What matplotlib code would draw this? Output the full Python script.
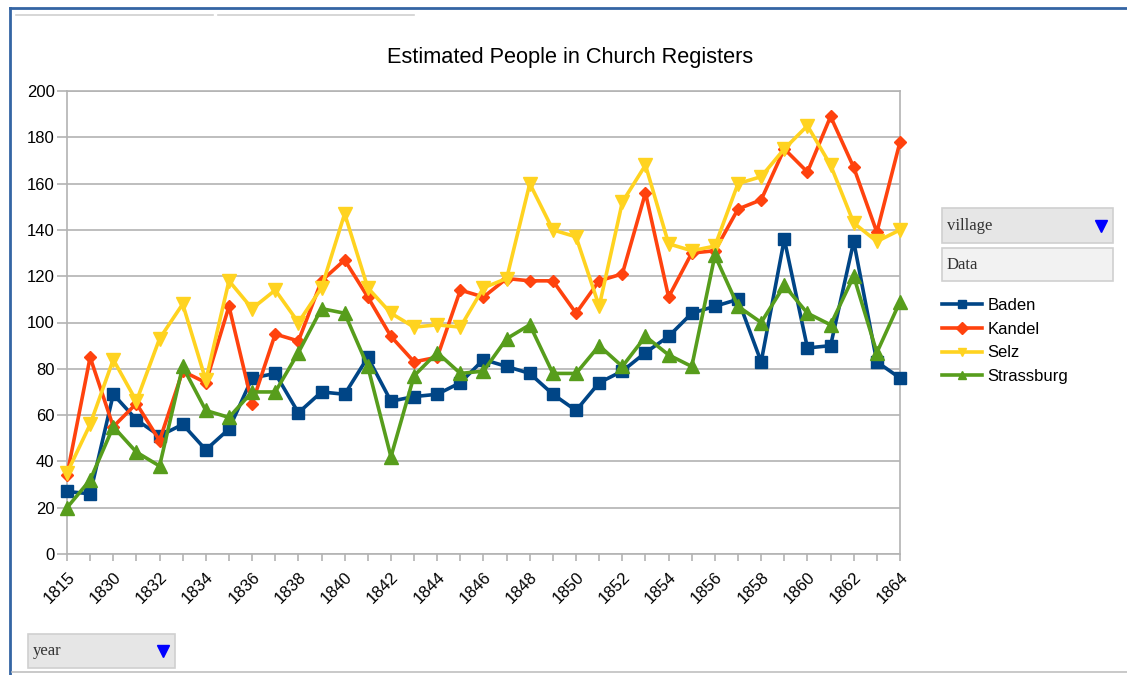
import numpy as np
import matplotlib
matplotlib.use("Agg")
import matplotlib.pyplot as plt
from matplotlib.lines import Line2D
from matplotlib.patches import Rectangle

plt.rcParams['font.family'] = ['Liberation Sans', 'DejaVu Sans']

years = ["1815", "1829"] + [str(y) for y in range(1830, 1865)]

baden = [27, 26, 69, 58, 51, 56, 45, 54, 76, 78, 61, 70, 69, 85, 66, 68, 69, 74, 84,
         81, 78, 69, 62, 74, 79, 87, 94, 104, 107, 110, 83, 136, 89, 90, 135, 83, 76]
kandel = [34, 85, 55, 65, 49, 79, 74, 107, 65, 95, 92, 118, 127, 111, 94, 83, 85, 114, 111,
          119, 118, 118, 104, 118, 121, 156, 111, 130, 131, 149, 153, 175, 165, 189, 167, 139, 178]
selz = [35, 56, 84, 66, 93, 108, 75, 118, 106, 114, 100, 115, 147, 115, 104, 98, 99, 98, 115,
        119, 160, 140, 137, 107, 152, 168, 134, 131, 133, 160, 163, 175, 185, 168, 143, 135, 140]
strassburg = [20, 32, 55, 44, 38, 81, 62, 59, 70, 70, 87, 106, 104, 81, 42, 77, 87, 78, 79,
              93, 99, 78, 78, 90, 81, 94, 86, 81, 129, 107, 100, 116, 104, 99, 120, 87, 109]

series = [
    ("Baden", baden, "#004586", "s", 9),
    ("Kandel", kandel, "#ff420e", "D", 6.5),
    ("Selz", selz, "#ffd320", "v", 10),
    ("Strassburg", strassburg, "#579d1c", "^", 10),
]

W, H = 1127, 675
fig = plt.figure(figsize=(W / 100, H / 100), dpi=100)
ax = fig.add_axes([67 / W, 1 - 554 / H, (900 - 67) / W, (554 - 91) / H])

x = np.arange(len(years))
for name, vals, col, mk, ms in series:
    ax.plot(x, vals, color=col, lw=2.6, marker=mk, ms=ms, mec=col, mfc=col, label=name,
            clip_on=False, zorder=3)

ax.set_xlim(0, len(years) - 1)
ax.set_ylim(0, 200)
ax.set_yticks(range(0, 201, 20))
ax.set_xticks(x)
ax.set_xticklabels([y if i % 2 == 0 else "" for i, y in enumerate(years)],
                   rotation=45, ha="right", va="top", rotation_mode="anchor", fontsize=12)
ax.tick_params(axis="y", labelsize=12, length=7, color="#b3b3b3", width=1.2, pad=2)
ax.tick_params(axis="x", length=5, color="#b3b3b3", width=1.2, pad=6)
ax.yaxis.grid(True, color="#b3b3b3", lw=1.2)
ax.set_axisbelow(True)
for s in ax.spines.values():
    s.set_color("#b3b3b3")
    s.set_linewidth(1.2)

fig.text(570 / W, 1 - 58 / H, "Estimated People in Church Registers", ha="center", va="center",
         fontsize=15.7)

leg = ax.legend(loc="upper left", bbox_to_anchor=(935 / W, 1 - 291 / H), bbox_transform=fig.transFigure,
                frameon=False, fontsize=12, handlelength=2.4, handletextpad=0.35, labelspacing=0.53,
                borderaxespad=0)
for h in leg.legend_handles:
    h.set_markersize(6)

# field buttons of the pivot chart
def button(x0, y0, x1, y1, label, fill, arrow):
    fig.add_artist(Rectangle((x0 / W, 1 - y1 / H), (x1 - x0) / W, (y1 - y0) / H,
                             transform=fig.transFigure, fc=fill, ec="#d0d0d0", lw=1.2))
    fig.text((x0 + 5) / W, 1 - (y0 + y1) / 2 / H, label, ha="left", va="center",
             fontsize=12, family=["Liberation Serif", "DejaVu Serif"], color="#333333")
    if arrow:
        fig.add_artist(Line2D([(x1 - 12) / W], [1 - (y0 + y1) / 2 / H], marker="v", ms=8,
                              color="#0000ff", transform=fig.transFigure))

button(942, 208, 1113, 243, "village", "#e6e6e6", True)
button(942, 248, 1113, 281, "Data", "#f2f2f2", False)
button(28, 634, 175, 668, "year", "#e6e6e6", True)

# sheet frame
fig.add_artist(Line2D([10 / W, 10 / W], [0, 1 - 8 / H], color="#3465a4", lw=2, transform=fig.transFigure))
fig.add_artist(Line2D([10 / W, 1], [1 - 8 / H, 1 - 8 / H], color="#3465a4", lw=2, transform=fig.transFigure))
fig.add_artist(Line2D([12 / W, 1], [1 - 672 / H, 1 - 672 / H], color="#c0c0c0", lw=1.2, transform=fig.transFigure))
fig.add_artist(Line2D([16 / W, 213 / W], [1 - 15 / H, 1 - 15 / H], color="#d0d0d0", lw=1.2, transform=fig.transFigure))
fig.add_artist(Line2D([218 / W, 414 / W], [1 - 15 / H, 1 - 15 / H], color="#d0d0d0", lw=1.2, transform=fig.transFigure))

fig.savefig("out.png", dpi=100)
